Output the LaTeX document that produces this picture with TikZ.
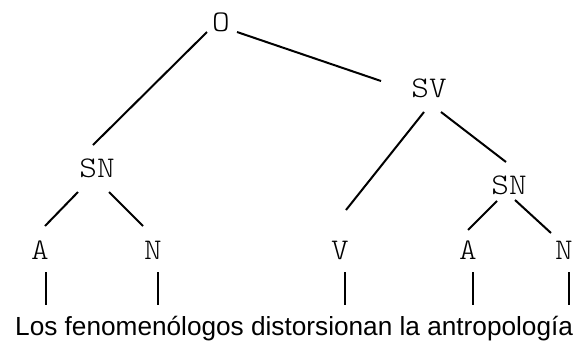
\documentclass[tikz,border=0pt]{standalone}
\usepackage{fontspec}
\setmainfont{Liberation Sans}
\newfontfamily\catfont[FakeStretch=1.12]{lmmonolt10-regular.otf}
\begin{document}
\begin{tikzpicture}[x=1pt,y=1pt,
  cat/.style={font=\catfont\fontsize{30}{30}\selectfont, inner sep=0pt},
  branch/.style={line width=2pt},
  stem/.style={line width=2pt}]
\useasboundingbox (0,0) rectangle (580,-341);

% category labels
\node[cat] (O)   at (221,-22)  {O};
\node[cat] (SV)  at (429,-88)  {SV};
\node[cat] (SNl) at (97,-168)  {SN};
\node[cat] (SNr) at (509,-185) {SN};
\node[cat] (A1)  at (40,-250)  {A};
\node[cat] (N1)  at (153,-250) {N};
\node[cat] (V)   at (340,-250) {V};
\node[cat] (A2)  at (468,-250) {A};
\node[cat] (N2)  at (564,-250) {N};

% sentence
\node[anchor=base west, inner sep=0pt, font=\fontsize{26.2}{26.2}\selectfont] (sent) at (15,-335)
  {Los fenomenólogos distorsionan la antropología};

% branches
\draw[branch] ([shift={(-14,-10)}]O.center)   -- ([shift={(-4,23)}]SNl.center);
\draw[branch] ([shift={(16,-10)}]O.center)    -- ([shift={(-48,7)}]SV.center);
\draw[branch] ([shift={(-5,-24)}]SV.center)   -- ([shift={(6,40)}]V.center);
\draw[branch] ([shift={(12,-24)}]SV.center)   -- ([shift={(-3,23)}]SNr.center);
\draw[branch] ([shift={(-19,-24)}]SNl.center) -- ([shift={(5,24)}]A1.center);
\draw[branch] ([shift={(12,-24)}]SNl.center)  -- ([shift={(-10,24)}]N1.center);
\draw[branch] ([shift={(-12,-16)}]SNr.center) -- ([shift={(0,20)}]A2.center);
\draw[branch] ([shift={(6,-15)}]SNr.center)   -- ([shift={(-13,17)}]N2.center);

% stems down to the words
\foreach \leaf/\dx in {A1/6, N1/5, V/5, A2/5, N2/5}
  \draw[stem] ([shift={(\dx,-22)}]\leaf.center) -- ++(0,-33);
\end{tikzpicture}
\end{document}
